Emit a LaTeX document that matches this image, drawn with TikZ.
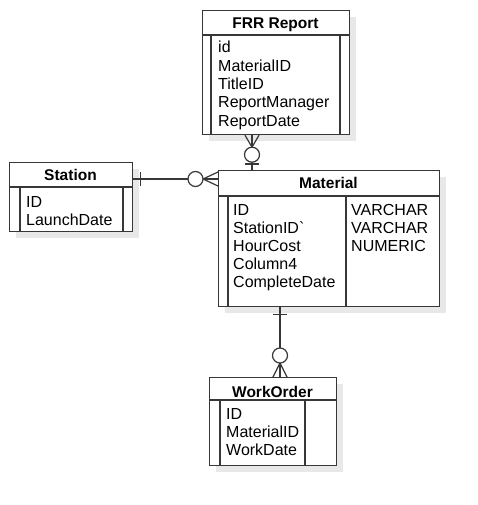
\documentclass[tikz,border=0pt]{standalone}
\usepackage{fontspec}
\newfontfamily\erfont{Liberation Sans}
\usetikzlibrary{calc,shadows}
\definecolor{linec}{RGB}{55,55,55}
\tikzset{
  ent/.style={draw=linec, line width=1.2pt, fill=white, inner sep=0pt, anchor=north west,
    drop shadow={shadow xshift=6pt, shadow yshift=-6pt, fill=black!9, opacity=1}},
  inner/.style={draw=linec, line width=1.2pt},
  conn/.style={draw=linec, line width=1.2pt},
  hdr/.style={anchor=base, inner sep=0pt, font=\erfont\bfseries\fontsize{15.5}{18}\selectfont},
  txt/.style={anchor=base west, inner sep=0pt, font=\erfont\fontsize{16}{18}\selectfont},
  circ/.style={draw=linec, line width=1.2pt, fill=white}
}
\begin{document}
\begin{tikzpicture}[x=1pt,y=-1pt]
\useasboundingbox (0,0) rectangle (478,505);

% FRR Report
\node[ent, minimum width=147pt, minimum height=124pt] (frr) at (202,10) {};
\draw[inner] (202,35) -- (349,35);
\draw[inner] (211,35) -- (211,134);
\draw[inner] (340,35) -- (340,134);
\node[hdr] (frr-h) at (275.5,29) {FRR Report};
\foreach \t [count=\i] in {id,MaterialID,TitleID,ReportManager,ReportDate}
  \node[txt] (frr-\i) at (218,{53+18.3*(\i-1)}) {\t};

% Station
\node[ent, minimum width=123pt, minimum height=69pt] (st) at (9,162) {};
\draw[inner] (9,187) -- (132,187);
\draw[inner] (20,187) -- (20,231);
\draw[inner] (123,187) -- (123,231);
\node[hdr] (st-h) at (70.5,180) {Station};
\foreach \t [count=\i] in {ID,LaunchDate}
  \node[txt] (st-\i) at (26,{207+18.3*(\i-1)}) {\t};

% Material
\node[ent, minimum width=221pt, minimum height=136pt] (mat) at (218,170) {};
\draw[inner] (218,196) -- (439,196);
\draw[inner] (228,196) -- (228,306);
\draw[inner] (346,196) -- (346,306);
\node[hdr] (mat-h) at (328.5,188) {Material};
\foreach \t [count=\i] in {ID,StationID`,HourCost,Column4,CompleteDate}
  \node[txt] (mat-\i) at (233,{215+18.2*(\i-1)}) {\t};
\foreach \t [count=\i] in {VARCHAR,VARCHAR,NUMERIC}
  \node[txt] (matt-\i) at (351,{215+18.2*(\i-1)}) {\t};

% WorkOrder
\node[ent, minimum width=127pt, minimum height=88pt] (wo) at (209,377) {};
\draw[inner] (209,400) -- (336,400);
\draw[inner] (220,400) -- (220,465);
\draw[inner] (305,400) -- (305,465);
\node[hdr] (wo-h) at (272.5,397) {WorkOrder};
\foreach \t [count=\i] in {ID,MaterialID,WorkDate}
  \node[txt] (wo-\i) at (226,{419+18.3*(\i-1)}) {\t};

% FRR Report -- Material (zero-or-many at FRR, one at Material)
\coordinate (a1) at ($(frr.south west)+(50,0)$);
\coordinate (a2) at (a1 |- mat.north);
\draw[conn] (a1) -- (a2);
\draw[conn] ($(a1)+(-7,0)$) -- ($(a1)+(0,12)$) -- ($(a1)+(7,0)$);
\draw[circ] ($(a1)+(0,19.5)$) circle[radius=7.5];
\draw[conn] ($(a2)+(-7,-6)$) -- ($(a2)+(7,-6)$);

% Station -- Material
\coordinate (b1) at ($(st.north east)+(0,17)$);
\coordinate (b2) at (b1 -| mat.west);
\draw[conn] (b1) -- (b2);
\draw[conn] ($(b1)+(7,-7)$) -- ($(b1)+(7,7)$);
\draw[conn] ($(b2)+(0,-7)$) -- ($(b2)+(-15,0)$) -- ($(b2)+(0,7)$);
\draw[circ] ($(b2)+(-22.5,0)$) circle[radius=7.5];

% Material -- WorkOrder
\coordinate (c1) at ($(mat.south west)+(62,0)$);
\coordinate (c2) at (c1 |- wo.north);
\draw[conn] (c1) -- (c2);
\draw[conn] ($(c1)+(-7,7)$) -- ($(c1)+(7,7)$);
\draw[conn] ($(c2)+(-7,0)$) -- ($(c2)+(0,-14)$) -- ($(c2)+(7,0)$);
\draw[circ] ($(c2)+(0,-21.5)$) circle[radius=7.5];
\end{tikzpicture}
\end{document}
